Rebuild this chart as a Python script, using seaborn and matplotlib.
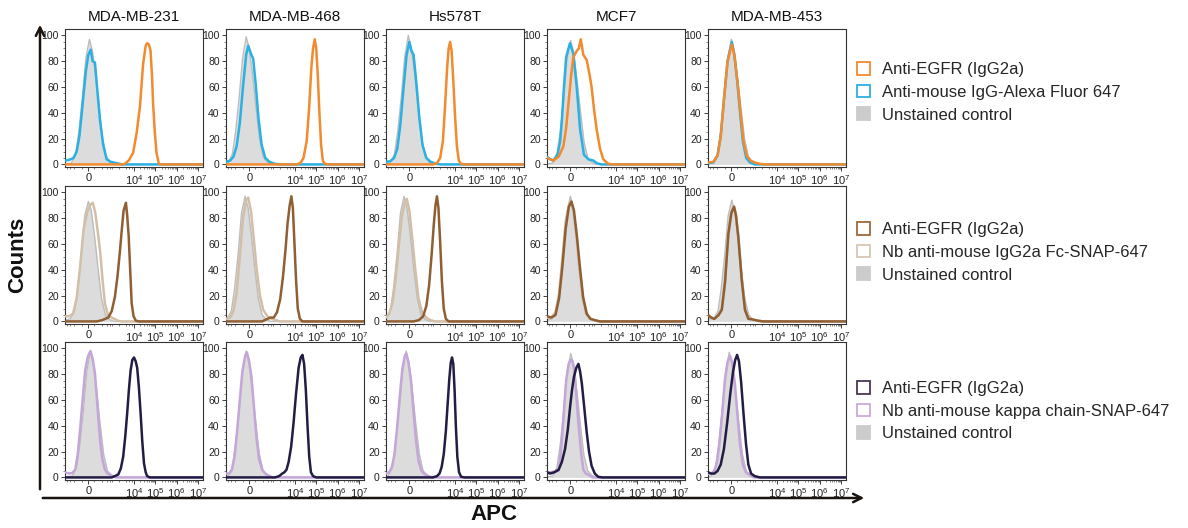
import numpy as np
import pandas as pd
import seaborn as sns
import matplotlib
matplotlib.use("Agg")
import matplotlib.pyplot as plt
from matplotlib.patches import Patch, FancyArrowPatch

sns.set_theme(style="ticks")
plt.rcParams["font.family"] = ["Liberation Sans", "DejaVu Sans"]
plt.rcParams["mathtext.fontset"] = "custom"
plt.rcParams["mathtext.rm"] = "Liberation Sans"
plt.rcParams["mathtext.it"] = "Liberation Sans"

# ---------------- data ----------------
cell_lines = ["MDA-MB-231", "MDA-MB-468", "Hs578T", "MCF7", "MDA-MB-453"]
x_tick_values = [0, 1e4, 1e5, 1e6, 1e7]
x_tick_labels = ["0", r"$\mathregular{10^4}$", r"$\mathregular{10^5}$",
                 r"$\mathregular{10^6}$", r"$\mathregular{10^7}$"]
y_tick_values = [0, 20, 40, 60, 80, 100]

row1_labels = ["Anti-EGFR (IgG2a)", "Anti-mouse IgG-Alexa Fluor 647", "Unstained control"]
row2_labels = ["Anti-EGFR (IgG2a)", "Nb anti-mouse IgG2a Fc-SNAP-647", "Unstained control"]
row3_labels = ["Anti-EGFR (IgG2a)", "Nb anti-mouse kappa chain-SNAP-647", "Unstained control"]

# curves: (display channel, count), one per cell line
r1_unst = [
    [(-1.1,0.5),(-0.8,1),(-0.6,8),(-0.45,25),(-0.28,52),(-0.12,82),(0.05,97),(0.19,88),(0.35,68),(0.5,45),(0.67,20),(0.85,6),(1.05,1.5),(1.25,0),(5.4,0)],
    [(-1.1,0.5),(-1.0,1),(-0.8,8),(-0.65,25),(-0.48,52),(-0.32,82),(-0.15,99),(-0.01,90),(0.15,70),(0.3,46),(0.47,21),(0.65,6),(0.85,1.5),(1.05,0),(5.4,0)],
    [(-1.1,0.5),(-0.9,1),(-0.7,8),(-0.55,25),(-0.38,52),(-0.22,83),(-0.05,100),(0.09,90),(0.25,70),(0.4,46),(0.57,21),(0.75,6),(0.95,1.5),(1.15,0),(5.4,0)],
    [(-1.1,0.5),(-0.83,1),(-0.63,8),(-0.48,25),(-0.31,52),(-0.15,82),(0.02,96),(0.16,86),(0.32,64),(0.47,42),(0.64,18),(0.82,5),(1.02,1.5),(1.22,0),(5.4,0)],
    [(-1.1,0.5),(-0.85,1),(-0.65,8),(-0.5,25),(-0.33,52),(-0.17,82),(0.0,97),(0.14,88),(0.3,66),(0.45,44),(0.62,20),(0.8,6),(1.0,1.5),(1.2,0),(5.4,0)],
]
r1_ctrl = [
    [(-1.1,3),(-0.9,3.5),(-0.7,5),(-0.55,10),(-0.42,22),(-0.28,45),(-0.12,72),(0.0,85),(0.11,89),(0.2,80),(0.31,79),(0.42,58),(0.55,34),(0.7,15),(0.86,4),(1.05,2),(1.33,1),(1.6,0),(5.4,0)],
    [(-1.1,2),(-0.9,3),(-0.75,6),(-0.6,14),(-0.45,32),(-0.3,60),(-0.15,85),(-0.05,92),(0.07,86),(0.18,82),(0.3,62),(0.43,36),(0.58,15),(0.75,5),(0.95,2),(1.2,0.5),(1.5,0),(5.4,0)],
    [(-1.1,2),(-0.9,2.5),(-0.72,5),(-0.57,12),(-0.43,30),(-0.28,58),(-0.13,85),(0.0,95),(0.1,88),(0.2,85),(0.33,63),(0.47,36),(0.62,15),(0.8,5),(1.0,2),(1.25,0.5),(1.5,0),(5.4,0)],
    [(-1.1,6),(-0.95,4),(-0.8,3),(-0.6,8),(-0.48,18),(-0.4,34),(-0.3,60),(-0.2,83),(-0.02,94),(0.14,86),(0.3,60),(0.46,27),(0.64,7.5),(0.85,4),(1.08,3),(1.25,1),(1.45,0),(5.4,0)],
    [(-1.1,1),(-0.85,1.5),(-0.65,7),(-0.5,22),(-0.35,50),(-0.18,80),(0.02,95),(0.14,85),(0.28,64),(0.4,42),(0.54,18),(0.7,5),(0.88,1.5),(1.1,0),(5.4,0)],
]
r1_egfr = [
    [(-1.1,0),(1.6,0),(1.72,0.5),(1.9,3),(2.11,9),(2.28,25),(2.43,45),(2.58,78),(2.7,92),(2.77,94),(2.85,93),(2.93,88),(3.0,68),(3.05,47),(3.13,25),(3.21,9),(3.32,0.5),(3.45,0),(5.4,0)],
    [(-1.1,0),(2.2,0),(2.4,1),(2.55,5),(2.7,18),(2.82,45),(2.92,75),(3.0,90),(3.08,97),(3.15,90),(3.22,70),(3.3,40),(3.38,15),(3.46,3),(3.55,0.5),(3.7,0),(5.4,0)],
    [(-1.1,0),(1.1,0),(1.3,1),(1.45,5),(1.58,18),(1.68,45),(1.78,75),(1.85,90),(1.92,95),(1.99,88),(2.07,65),(2.15,38),(2.24,14),(2.33,3),(2.43,0.5),(2.6,0),(5.4,0)],
    [(-1.1,5),(-0.95,4),(-0.8,3),(-0.55,6),(-0.33,14),(-0.2,28),(-0.09,47),(0.03,68),(0.14,83),(0.3,88),(0.4,90),(0.49,97),(0.61,85),(0.77,81),(0.9,70),(1.0,60),(1.12,42),(1.24,27),(1.4,12),(1.55,4),(1.78,0.5),(2.0,0),(5.4,0)],
    [(-1.1,1.5),(-0.85,2),(-0.65,7),(-0.5,22),(-0.35,50),(-0.18,80),(0.02,93),(0.15,84),(0.3,62),(0.43,40),(0.57,18),(0.72,7),(0.9,3),(1.1,1.5),(1.35,0.5),(1.6,0),(5.4,0)],
]

r2_unst = [
    [(-1.1,1),(-0.85,2),(-0.65,8),(-0.5,25),(-0.33,52),(-0.17,82),(0.0,93),(0.14,86),(0.3,65),(0.45,42),(0.62,18),(0.8,5),(1.0,1.5),(1.2,0),(5.4,0)],
    [(-1.1,1.5),(-1.05,2),(-0.85,8),(-0.7,25),(-0.53,52),(-0.37,84),(-0.2,97),(-0.06,88),(0.1,66),(0.25,42),(0.42,18),(0.6,5),(0.8,1.5),(1.0,0),(5.4,0)],
    [(-1.1,3),(-0.9,8),(-0.75,25),(-0.58,52),(-0.42,84),(-0.25,97),(-0.11,88),(0.05,66),(0.2,42),(0.37,18),(0.55,5),(0.75,1.5),(0.95,0),(5.4,0)],
    [(-1.1,1),(-0.85,2),(-0.65,8),(-0.5,25),(-0.33,52),(-0.17,84),(0.0,97),(0.14,88),(0.3,66),(0.45,42),(0.62,18),(0.8,5),(1.0,1.5),(1.2,0),(5.4,0)],
    [(-1.1,2),(-0.83,2),(-0.63,8),(-0.48,25),(-0.31,52),(-0.15,82),(0.02,94),(0.16,85),(0.32,64),(0.47,40),(0.64,17),(0.82,5),(1.02,1.5),(1.22,0),(5.4,0)],
]
r2_ctrl = [
    [(-1.1,4),(-0.9,4),(-0.72,6),(-0.55,18),(-0.39,42),(-0.22,72),(-0.05,85),(0.08,90),(0.21,92),(0.33,84),(0.44,70),(0.55,55),(0.67,32),(0.78,14),(0.92,5),(1.1,3),(1.22,2),(1.4,0.5),(1.6,0),(5.4,0)],
    [(-1.1,2),(-0.9,3),(-0.75,8),(-0.6,22),(-0.45,50),(-0.3,80),(-0.15,94),(-0.05,96),(0.08,85),(0.22,62),(0.35,40),(0.5,20),(0.65,9),(0.85,4),(1.05,2),(1.25,1),(1.45,0),(5.4,0)],
    [(-1.1,3),(-0.95,6),(-0.8,14),(-0.65,32),(-0.5,58),(-0.35,82),(-0.2,93),(-0.12,95),(0.0,86),(0.14,64),(0.28,40),(0.43,18),(0.6,7),(0.8,3),(1.0,1),(1.2,0),(5.4,0)],
    [(-1.1,3),(-0.9,3),(-0.7,7),(-0.53,22),(-0.38,48),(-0.22,78),(-0.05,91),(0.02,93),(0.14,86),(0.29,65),(0.42,42),(0.57,19),(0.74,6),(0.92,2),(1.12,1),(1.35,0),(5.4,0)],
    [(-1.1,5),(-0.95,3),(-0.8,2),(-0.6,5),(-0.45,10),(-0.3,31),(-0.14,68),(0.0,85),(0.1,89),(0.2,84),(0.33,66),(0.49,33),(0.64,10),(0.8,3),(1.0,1.5),(1.27,0.5),(1.5,0),(5.4,0)],
]
r2_egfr = [
    [(-1.1,0),(0.4,0),(0.65,1),(0.94,3),(1.1,8),(1.25,19),(1.38,36),(1.49,55),(1.58,72),(1.66,86),(1.77,92),(1.83,82),(1.9,66),(1.97,40),(2.04,14),(2.13,4),(2.24,0.5),(2.4,0),(5.4,0)],
    [(-1.1,0),(0.6,0),(0.85,2),(1.0,3),(1.15,3),(1.3,7),(1.45,17),(1.58,34),(1.7,55),(1.8,76),(1.9,90),(1.98,97),(2.05,88),(2.12,62),(2.2,32),(2.28,10),(2.38,2),(2.5,0),(5.4,0)],
    [(-1.1,0),(0.2,0),(0.45,1),(0.65,4),(0.8,12),(0.93,28),(1.05,52),(1.15,75),(1.23,90),(1.3,97),(1.37,88),(1.45,62),(1.53,32),(1.62,10),(1.72,2),(1.85,0),(5.4,0)],
    [(-1.1,4),(-0.9,3),(-0.7,5),(-0.53,18),(-0.38,42),(-0.22,72),(-0.07,89),(0.05,93),(0.17,86),(0.31,66),(0.45,42),(0.6,19),(0.77,6),(0.95,2),(1.15,1),(1.4,0),(5.4,0)],
    [(-1.1,5),(-0.95,3),(-0.8,2),(-0.6,5),(-0.45,9),(-0.3,30),(-0.14,68),(0.0,84),(0.13,89),(0.22,82),(0.33,65),(0.49,32),(0.64,9),(0.8,2),(1.0,1.5),(1.27,0.5),(1.5,0),(5.4,0)],
]

r3_unst = [
    [(-1.1,0.5),(-0.75,1),(-0.55,8),(-0.4,25),(-0.23,52),(-0.07,82),(0.1,98),(0.24,88),(0.4,66),(0.55,42),(0.72,18),(0.9,5),(1.1,1.5),(1.3,0),(5.4,0)],
    [(-1.1,0.5),(-1.0,1),(-0.8,8),(-0.65,25),(-0.48,52),(-0.32,82),(-0.15,98),(-0.01,88),(0.15,66),(0.3,42),(0.47,18),(0.65,5),(0.85,1.5),(1.05,0),(5.4,0)],
    [(-1.1,0.5),(-1.0,1),(-0.8,8),(-0.65,25),(-0.48,52),(-0.32,82),(-0.15,98),(-0.01,88),(0.15,66),(0.3,42),(0.47,18),(0.65,5),(0.85,1.5),(1.05,0),(5.4,0)],
    [(-1.1,0.5),(-0.83,1),(-0.63,8),(-0.48,25),(-0.31,52),(-0.15,82),(0.02,96),(0.16,87),(0.32,65),(0.47,41),(0.64,17),(0.82,5),(1.02,1.5),(1.22,0),(5.4,0)],
    [(-1.1,0.5),(-0.95,1),(-0.75,8),(-0.6,25),(-0.43,52),(-0.27,82),(-0.1,97),(0.04,88),(0.2,66),(0.35,42),(0.52,18),(0.7,5),(0.9,1.5),(1.1,0),(5.4,0)],
]
r3_ctrl = [
    [(-1.1,4),(-0.9,3),(-0.75,3.5),(-0.62,6),(-0.5,18),(-0.39,37),(-0.26,62),(-0.15,83),(-0.02,94),(0.1,98),(0.2,92),(0.31,81),(0.43,55),(0.55,29),(0.66,14),(0.78,6),(0.9,3),(1.02,2),(1.3,0),(5.4,0)],
    [(-1.1,3),(-0.95,3),(-0.82,6),(-0.7,16),(-0.58,35),(-0.45,60),(-0.33,82),(-0.2,94),(-0.12,97),(-0.02,91),(0.1,78),(0.22,54),(0.34,30),(0.46,14),(0.6,6),(0.75,3),(0.9,1.5),(1.1,0),(5.4,0)],
    [(-1.1,3),(-0.95,4),(-0.82,8),(-0.7,18),(-0.58,38),(-0.45,63),(-0.33,84),(-0.22,94),(-0.15,96),(-0.05,90),(0.07,76),(0.19,52),(0.31,29),(0.43,13),(0.57,5),(0.72,2.5),(0.9,1),(1.1,0),(5.4,0)],
    [(-1.1,4),(-0.9,4),(-0.7,5),(-0.56,5),(-0.48,15),(-0.4,29),(-0.3,52),(-0.2,75),(-0.08,88),(0.03,91.5),(0.1,90),(0.19,83),(0.28,64),(0.38,42),(0.5,20),(0.61,6),(0.73,3),(0.85,2),(1.05,0),(5.4,0)],
    [(-1.1,3),(-0.95,3),(-0.8,5),(-0.67,12),(-0.55,28),(-0.42,52),(-0.3,76),(-0.17,90),(-0.05,94),(0.05,88),(0.17,72),(0.29,48),(0.41,25),(0.54,10),(0.68,4),(0.85,2),(1.05,0),(5.4,0)],
]
r3_egfr = [
    [(-1.1,0),(1.1,0),(1.25,1),(1.41,2.3),(1.53,7),(1.64,16),(1.74,32),(1.83,50),(1.91,68),(1.99,83),(2.07,91),(2.15,93),(2.23,90),(2.3,85),(2.38,70),(2.46,50),(2.54,28),(2.62,11),(2.7,4),(2.77,1),(2.9,0),(5.4,0)],
    [(-1.1,0),(1.2,0),(1.4,1),(1.55,3),(1.65,4),(1.75,6),(1.85,12),(1.97,24),(2.08,42),(2.2,65),(2.32,85),(2.42,93),(2.5,95),(2.58,88),(2.66,68),(2.74,40),(2.82,16),(2.9,4),(3.0,1),(3.15,0),(5.4,0)],
    [(-1.1,0),(1.1,0),(1.3,1),(1.42,3),(1.52,8),(1.62,18),(1.72,36),(1.8,56),(1.88,76),(1.95,89),(2.01,93),(2.07,88),(2.13,68),(2.19,40),(2.26,16),(2.34,4),(2.44,0.5),(2.6,0),(5.4,0)],
    [(-1.1,4),(-0.95,3),(-0.75,4),(-0.55,6),(-0.4,12),(-0.25,22),(-0.12,37),(-0.01,55),(0.08,68),(0.17,78),(0.28,85),(0.38,88),(0.46,82),(0.54,73),(0.65,55),(0.77,35),(0.88,20),(1.0,9),(1.15,3),(1.31,0.5),(1.5,0),(5.4,0)],
    [(-1.1,4),(-0.95,3),(-0.8,3),(-0.65,5),(-0.5,10),(-0.35,22),(-0.2,42),(-0.05,65),(0.08,82),(0.18,91),(0.27,95),(0.36,90),(0.46,74),(0.57,50),(0.69,26),(0.8,10),(0.93,3),(1.1,1),(1.35,0),(5.4,0)],
]

# ---------------- styles ----------------
row_colors = [("#F28A2E", "#2BB0E4"), ("#8F5F33", "#D3BFA8"), ("#231C45", "#C4A6D8")]
legend_colors = [("#F28A2E", "#2BB0E4"), ("#9C6A3C", "#D8C6B4"), ("#4A3656", "#C9ABDA")]
GRAY_FILL = "#DCDCDC"
GRAY_EDGE = "#BDBDBD"

W, H = 1188, 528
fig = plt.figure(figsize=(W / 100, H / 100), dpi=100)

col_left = [65, 226, 386, 547, 708]
row_top = [29, 186, 342]
PW, PH = 138, 138


def chan(v):
    return np.arcsinh(np.asarray(v, dtype=float) / 140.0) / np.log(10)


minor_vals = []
for s in (-1, 1):
    minor_vals += [s * k * 100 for k in (1, 3, 5, 7, 9)]
    minor_vals += [s * k * 1000 for k in (2, 4, 6, 8)]
for dec in (1e4, 1e5, 1e6):
    minor_vals += [k * dec for k in range(2, 10)]
minor_pos = [p for p in chan(minor_vals) if -1.1 < p < 5.4]


def to_df(curve, name):
    ch, ct = zip(*curve)
    return pd.DataFrame({"channel": ch, "count": ct, "series": name})


rows = [(r1_egfr, r1_ctrl, r1_unst, row1_labels),
        (r2_egfr, r2_ctrl, r2_unst, row2_labels),
        (r3_egfr, r3_ctrl, r3_unst, row3_labels)]

for r, (egfr, ctrl, unst, labels) in enumerate(rows):
    c_egfr, c_ctrl = row_colors[r]
    for c in range(5):
        ax = fig.add_axes([col_left[c] / W, 1 - (row_top[r] + PH) / H, PW / W, PH / H])
        du = to_df(unst[c], labels[2])
        ax.fill_between(du["channel"], du["count"], color=GRAY_FILL, lw=0, zorder=1)
        sns.lineplot(data=du, x="channel", y="count", color=GRAY_EDGE, lw=1.0,
                     estimator=None, sort=False, ax=ax, zorder=2)
        dl = pd.concat([to_df(ctrl[c], labels[1]), to_df(egfr[c], labels[0])])
        sns.lineplot(data=dl, x="channel", y="count", hue="series",
                     hue_order=[labels[1], labels[0]],
                     palette={labels[0]: c_egfr, labels[1]: c_ctrl},
                     estimator=None, sort=False, lw=1.8, legend=False, ax=ax, zorder=3)
        ax.set_xlim(-1.1, 5.4)
        ax.set_ylim(-2, 105)
        ax.set_xlabel("")
        ax.set_ylabel("")
        ax.set_xticks(chan(x_tick_values))
        ax.set_xticklabels(x_tick_labels)
        ax.set_xticks(minor_pos, minor=True)
        ax.set_yticks(y_tick_values)
        ax.set_yticks(np.arange(0, 101, 5), minor=True)
        ax.tick_params(which="major", length=3, width=0.6, pad=1.5,
                       colors="#222222", direction="out")
        ax.tick_params(axis="x", which="major", labelsize=8)
        ax.tick_params(axis="y", which="major", labelsize=7.5)
        ax.tick_params(which="minor", length=1.4, width=0.5, colors="#555555")
        for sp in ax.spines.values():
            sp.set_linewidth(0.8)
            sp.set_color("#333333")
            sp.set_visible(True)
        if r == 0:
            fig.text((col_left[c] + PW / 2) / W, 1 - 17 / H, cell_lines[c],
                     ha="center", va="center", fontsize=11, color="#111111")

    handles = [Patch(facecolor="white", edgecolor=legend_colors[r][0], linewidth=1.3),
               Patch(facecolor="white", edgecolor=legend_colors[r][1], linewidth=1.3),
               Patch(facecolor="#CCCCCC", edgecolor="#CCCCCC", linewidth=1.3)]
    leg_top = [62, 222, 381][r]
    fig.legend(handles, labels, loc="upper left",
               bbox_to_anchor=(857 / W, 1 - leg_top / H),
               frameon=False, fontsize=12, handlelength=0.8, handleheight=0.8,
               handletextpad=0.7, labelspacing=0.45, borderpad=0, borderaxespad=0)

# axis arrows
fig.add_artist(FancyArrowPatch((40 / W, 1 - 492 / H), (40 / W, 1 - 22 / H),
                               transform=fig.transFigure, arrowstyle="->,head_length=6,head_width=3",
                               lw=1.8, color="#1a1410", mutation_scale=1))
fig.add_artist(FancyArrowPatch((40 / W, 1 - 498 / H), (867 / W, 1 - 498 / H),
                               transform=fig.transFigure, arrowstyle="->,head_length=6,head_width=3",
                               lw=1.8, color="#1a1410", mutation_scale=1))
fig.text(18 / W, 1 - 255 / H, "Counts", rotation=90, ha="center", va="center",
         fontsize=16, fontweight="bold", color="#111111")
fig.text(494 / W, 1 - 515 / H, "APC", ha="center", va="center",
         fontsize=16, fontweight="bold", color="#111111")

fig.savefig("out.png", dpi=100)
